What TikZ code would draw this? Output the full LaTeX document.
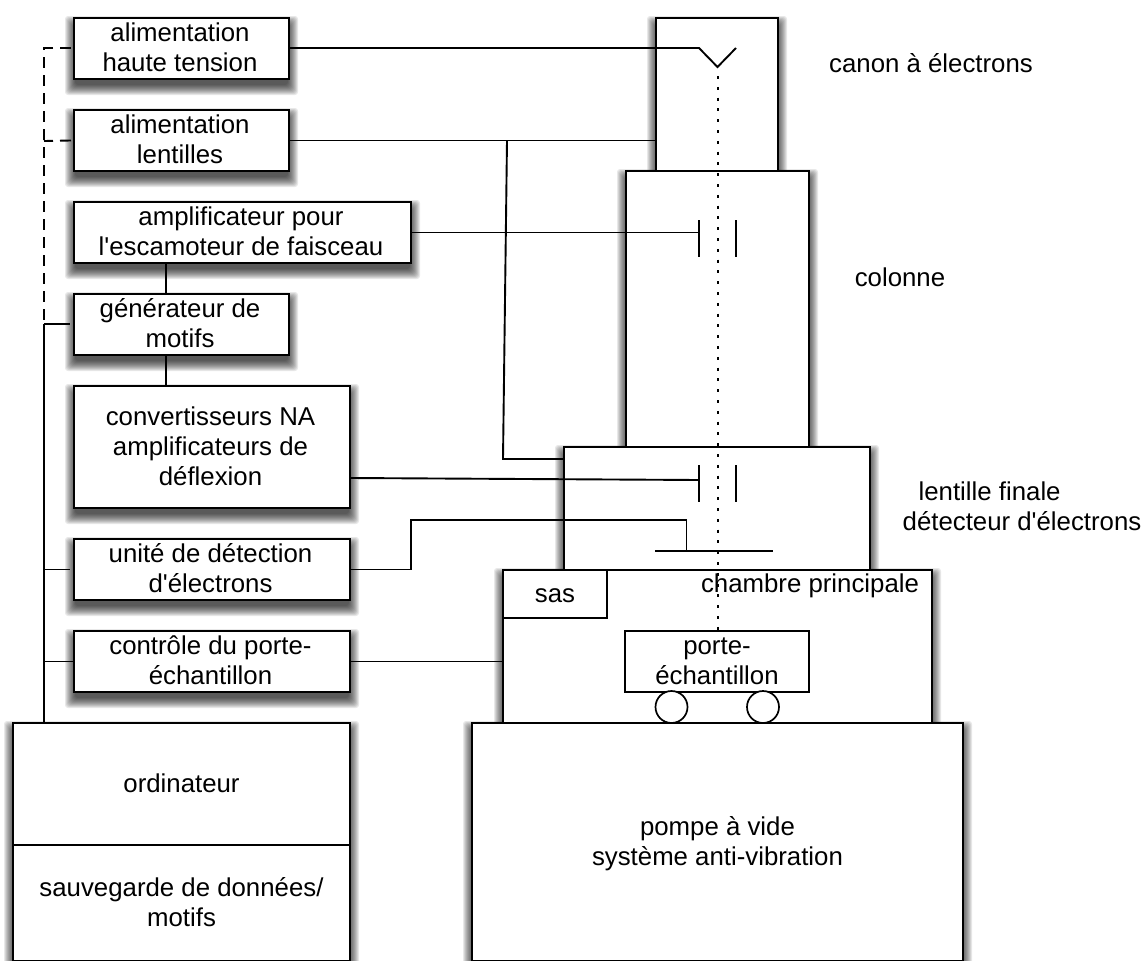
\documentclass[tikz,border=0pt]{standalone}
\usepackage{fontspec}
\newfontfamily\lib{Liberation Sans}
\newcommand{\st}{\rule[-7pt]{0pt}{30pt}}
\newcommand{\stl}{\hspace*{-3pt}\st}
\begin{document}
\begin{tikzpicture}[x=1pt,y=-1pt,
  lbl/.style={align=center,inner sep=0pt,font=\lib\fontsize{25.8}{30}\selectfont},
  box/.style={draw=black,line width=1.9pt,fill=white,rectangle,inner sep=0pt,align=center,font=\lib\fontsize{25.8}{30}\selectfont},
  conn/.style={line width=1.9pt,line join=miter}]
\useasboundingbox (0,0) rectangle (1144,961);
\newcommand{\sh}[4]{% x1 y1 x2 y2
  \foreach \g in {9,8,...,-1}{\fill[black,opacity=.09,rounded corners=3pt] (#1-\g,#2-\g+7) rectangle (#3+\g,#4+\g+7);}}
\newcommand{\bx}[6]{% name x1 y1 x2 y2 text
  \node[box,minimum width=#4-#2,minimum height=#5-#3] (#1) at ({(#2+#4)/2},{(#3+#5)/2}) {#6};}
% shadows first
\sh{656}{18}{778}{171}
\sh{626}{171}{809}{447}
\sh{564}{447}{870}{570}
\sh{503}{570}{932}{723}
\sh{472}{723}{963}{961}
\sh{74}{18}{289}{79}
\sh{74}{110}{289}{171}
\sh{74}{202}{411}{263}
\sh{74}{294}{289}{355}
\sh{74}{386}{350}{508}
\sh{74}{539}{350}{600}
\sh{74}{631}{350}{692}
\sh{13}{723}{350}{961}
% right stack
\bx{canon}{656}{18}{778}{171}{}
\bx{col}{626}{171}{809}{447}{}
\bx{lent}{564}{447}{870}{570}{}
\bx{chamb}{503}{570}{932}{723}{}
\bx{sas}{503}{570}{607}{618}{\st sas}
\bx{porte}{625}{631}{809}{692}{\st porte-\\\st échantillon}
\bx{pompe}{472}{723}{963}{961}{\st pompe à vide\\\st système anti-vibration}
% left column
\bx{ht}{74}{18}{289}{79}{\stl alimentation\\\stl haute tension}
\bx{al}{74}{110}{289}{171}{\stl alimentation\\\stl lentilles}
\bx{amp}{74}{202}{411}{263}{\stl amplificateur pour\\\stl l'escamoteur de faisceau}
\bx{gen}{74}{294}{289}{355}{\stl générateur de\\\stl motifs}
\bx{conv}{74}{386}{350}{508}{\stl convertisseurs NA\\\stl amplificateurs de\\\stl déflexion}
\bx{det}{74}{539}{350}{600}{\stl unité de détection\\\stl d'électrons}
\bx{ctl}{74}{631}{350}{692}{\stl contrôle du porte-\\\stl échantillon}
\bx{ord}{13}{723}{350}{845}{\st ordinateur}
\bx{sav}{13}{845}{350}{961}{\st sauvegarde de données/\\\st motifs}
% wheels
\node[draw,circle,line width=1.7pt,fill=white,minimum size=32pt,inner sep=0pt] (w1) at (671.5,707) {};
\node[draw,circle,line width=1.7pt,fill=white,minimum size=32pt,inner sep=0pt] (w2) at (763,707) {};
% free coordinates
\coordinate (g1) at (699,48); \coordinate (gt) at (717.5,67); \coordinate (g2) at (736,48);
\coordinate (a1) at (699,220); \coordinate (a2) at (699,257); \coordinate (a3) at (736,220); \coordinate (a4) at (736,257);
\coordinate (b1) at (699,465); \coordinate (b2) at (699,502); \coordinate (b3) at (736,465); \coordinate (b4) at (736,502);
\coordinate (bm) at (699,480); \coordinate (cm) at (350,478);
\coordinate (d1) at (655,551); \coordinate (d2) at (773,551); \coordinate (dt) at (686.5,551);
\coordinate (bus) at (44,48); \coordinate (bus2) at (44,141); \coordinate (bus3) at (44,324); \coordinate (bus4) at (44,569.5); \coordinate (bus5) at (44,661.5); \coordinate (bus6) at (44,723);
\coordinate (p1) at (507,140.5); \coordinate (p2) at (503,459);
\coordinate (q1) at (411,569.5); \coordinate (q2) at (411,520); \coordinate (q3) at (686.5,520);
\coordinate (e1) at (70,324); \coordinate (e2) at (70,569.5); \coordinate (f1) at (71,48); \coordinate (f2) at (71,140.5);
\coordinate (v1) at (166,263); \coordinate (v2) at (166,294); \coordinate (v3) at (166,355); \coordinate (v4) at (166,386);
\coordinate (s1) at (717.5,76); \coordinate (s2) at (717.5,631);
% connectors
\draw[conn] (ht.east |- g1) -- (g1) -- (gt) -- (g2);
\draw[conn] (al.east) -- (canon.west |- al.east);
\draw[conn] (p1) -- (p2) -- (lent.west |- p2);
\draw[conn] (amp.east) -- (a1 |- amp.east);
\draw[conn] (a1) -- (a2);
\draw[conn] (a3) -- (a4);
\draw[conn] (cm) -- (bm);
\draw[conn] (b1) -- (b2);
\draw[conn] (b3) -- (b4);
\draw[conn] (det.east) -- (q1) -- (q2) -- (q3) -- (dt);
\draw[conn] (d1) -- (d2);
\draw[conn] (ctl.east) -- (chamb.west |- ctl.east);
\draw[conn] (v1) -- (v2);
\draw[conn] (v3) -- (v4);
\draw[conn] (bus3) -- (bus6);
\draw[conn] (bus3) -- (e1);
\draw[conn] (bus4) -- (e2);
\draw[conn] (bus5) -- (ctl.west);
\draw[conn,dash pattern=on 11pt off 7pt] (f1) -- (bus) -- (bus3);
\draw[conn,dash pattern=on 11pt off 7pt] (f2) -- (bus2);
\draw[line width=2pt,dash pattern=on 3pt off 7.8pt] (s1) -- (s2);
% labels
\node[lbl] (t1) at (931,64) {\st canon à électrons};
\node[lbl] (t2) at (900,278) {\st colonne};
\node[lbl,align=left] (t3) at (1022,507) {\st\hspace*{16pt}lentille finale\\\st détecteur d'électrons};
\node[lbl] (t4) at (810,584) {\st chambre principale};
\end{tikzpicture}
\end{document}
